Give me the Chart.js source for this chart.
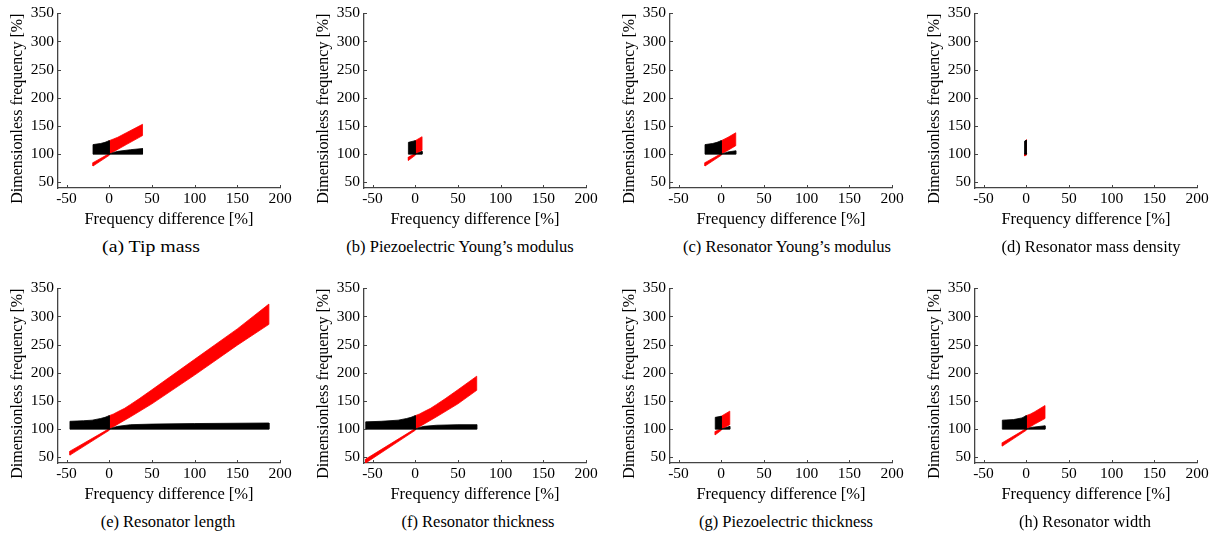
<!DOCTYPE html>
<html>
<head>
<meta charset="utf-8">
<script src="https://cdn.jsdelivr.net/npm/chart.js@4.4.1/dist/chart.umd.min.js"></script>
<style>
  html, body { margin: 0; padding: 0; background: #fff; }
  #figure { position: relative; width: 1223px; height: 535px; overflow: hidden; }
  .panel { position: absolute; width: 306px; height: 232px; }
  .caption {
    position: absolute; white-space: nowrap; color: #000;
    font-family: 'Liberation Serif', 'Times New Roman', Tinos, 'DejaVu Serif', serif;
    font-size: 16.5px;
  }
</style>
</head>
<body>
<div id="figure"></div>
<script>
// sub-figure captions
const captions = [
  '(a) Tip mass',
  '(b) Piezoelectric Young\u2019s modulus',
  '(c) Resonator Young\u2019s modulus',
  '(d) Resonator mass density',
  '(e) Resonator length',
  '(f) Resonator thickness',
  '(g) Piezoelectric thickness',
  '(h) Resonator width'
];

const xTicks = [-50, 0, 50, 100, 150, 200];
const yTicks = [50, 100, 150, 200, 250, 300, 350];
const xLimits = [-60, 200];
const yLimits = [40, 350];
const baseLevel = 100; // lower edge of the black region

// black region for negative frequency difference: upper edge [x, y]
const blackLeftTop = [
  [[-19, 117], [-10, 119], [-5, 121], [0, 124]],
  [[-8, 121], [0, 124]],
  [[-19, 117], [-10, 119], [-5, 121], [0, 124]],
  [[-2, 123], [0, 125]],
  [[-46, 114], [-30, 115], [-20, 116], [-10, 119], [-5, 121], [0, 124]],
  [[-58, 113], [-40, 114], [-20, 116], [-10, 119], [-5, 121], [0, 124]],
  [[-7, 121], [0, 123]],
  [[-28, 116], [-15, 117], [-5, 120], [0, 124]]
];

// black region for positive frequency difference: upper edge
const blackRightTop = [
  [[0, 100], [5, 103], [10, 105], [25, 108], [39, 110]],
  [[0, 100], [8, 105]],
  [[0, 100], [8, 104], [17, 106]],
  [[0, 100], [0.6, 102]],
  [[0, 100], [5, 103], [10, 105], [25, 108], [50, 109], [100, 110], [187, 111]],
  [[0, 100], [5, 103], [10, 105], [25, 107], [50, 108], [72, 108]],
  [[0, 100], [10, 105]],
  [[0, 100], [5, 103], [10, 104], [22, 106]]
];

// red region, negative side: lower and upper edges
const redLeftLow = [
  [[-19, 79], [0, 98]],
  [[-8, 89], [0, 98]],
  [[-19, 79], [0, 98]],
  [[-2, 97], [0, 98]],
  [[-46, 54], [0, 98]],
  [[-58, 40], [0, 98]],
  [[-7, 90], [0, 98]],
  [[-28, 70], [0, 98]]
];
const redLeftHigh = [
  [[-19, 85], [0, 101]],
  [[-8, 95], [0, 101]],
  [[-19, 85], [0, 101]],
  [[-2, 101], [0, 101]],
  [[-46, 61], [0, 101]],
  [[-58, 47], [0, 101]],
  [[-7, 96], [0, 101]],
  [[-28, 76], [0, 101]]
];

// red region, positive side: lower and upper edges
const redRightLow = [
  [[0, 100], [20, 117], [39, 133]],
  [[0, 100], [8, 107]],
  [[0, 100], [8, 107], [17, 115]],
  [[0, 100], [0.6, 101]],
  [[0, 100], [25, 122], [50, 145], [100, 196], [150, 249], [187, 286]],
  [[0, 100], [25, 122], [50, 145], [72, 169]],
  [[0, 100], [10, 108]],
  [[0, 100], [10, 109], [22, 119]]
];
const redRightHigh = [
  [[0, 124], [5, 127], [10, 130], [20, 138], [39, 153]],
  [[0, 124], [8, 131]],
  [[0, 124], [8, 130], [17, 138]],
  [[0, 125], [0.6, 126]],
  [[0, 124], [5, 127], [10, 131], [18, 137], [25, 144], [35, 154], [50, 170], [100, 224], [150, 278], [187, 322]],
  [[0, 124], [5, 127], [10, 131], [18, 137], [25, 144], [35, 154], [50, 170], [72, 194]],
  [[0, 123], [10, 132]],
  [[0, 124], [5, 127], [10, 131], [22, 142]]
];

// layout of the 2 x 4 grid
const colLeft = [0, 306, 612, 917];
const rowTop = [0, 275];
const captionX = [151, 154, 175, 174, 168, 172, 174, 168];
const captionStretch = [1.2, 1, 1, 1, 1, 1, 1, 1];

const serif = "'Liberation Serif', 'Times New Roman', Tinos, 'DejaVu Serif', serif";
const axisColor = '#444';

const toXY = p => ({ x: p[0], y: p[1] });

function closed(points) {
  const pts = points.map(toXY);
  pts.push(pts[0]);
  return pts;
}

function region(points, color) {
  return {
    data: closed(points),
    showLine: true,
    fill: 'shape',
    backgroundColor: color,
    borderColor: color,
    borderWidth: 0.8,
    pointRadius: 0,
    tension: 0
  };
}

// inward tick marks on both axes
const innerTicks = {
  id: 'innerTicks',
  afterDraw(chart) {
    const { ctx, chartArea, scales: { x, y } } = chart;
    ctx.save();
    ctx.strokeStyle = axisColor;
    ctx.lineWidth = 1;
    ctx.beginPath();
    xTicks.forEach(v => {
      const px = Math.round(x.getPixelForValue(v)) + 0.5;
      ctx.moveTo(px, chartArea.bottom);
      ctx.lineTo(px, chartArea.bottom - 3);
    });
    yTicks.forEach(v => {
      const py = Math.round(y.getPixelForValue(v)) + 0.5;
      ctx.moveTo(chartArea.left, py);
      ctx.lineTo(chartArea.left + 3, py);
    });
    ctx.stroke();
    ctx.restore();
  }
};

const figure = document.getElementById('figure');

captions.forEach((caption, i) => {
  const row = Math.floor(i / 4);
  const col = i % 4;

  const box = document.createElement('div');
  box.className = 'panel';
  box.style.left = colLeft[col] + 'px';
  box.style.top = rowTop[row] + 'px';
  const canvas = document.createElement('canvas');
  canvas.width = 306;
  canvas.height = 232;
  box.appendChild(canvas);
  figure.appendChild(box);

  const cap = document.createElement('div');
  cap.className = 'caption';
  cap.textContent = caption;
  cap.style.left = (colLeft[col] + captionX[i]) + 'px';
  cap.style.top = (rowTop[row] + 237) + 'px';
  cap.style.transform = 'translateX(-50%) scaleX(' + captionStretch[i] + ')';
  figure.appendChild(cap);

  const blackLeft = [[blackLeftTop[i][0][0], baseLevel], ...blackLeftTop[i], [0, baseLevel]];
  const rightTop = blackRightTop[i];
  const blackRight = [...rightTop, [rightTop[rightTop.length - 1][0], baseLevel]];
  const redLeft = [...redLeftLow[i], ...redLeftHigh[i].slice().reverse()];
  const redRight = [...redRightLow[i], ...redRightHigh[i].slice().reverse()];

  new Chart(canvas, {
    type: 'scatter',
    data: {
      datasets: [
        region(blackLeft, '#000'),
        region(blackRight, '#000'),
        region(redLeft, '#ff0000'),
        region(redRight, '#ff0000')
      ]
    },
    options: {
      responsive: false,
      animation: false,
      devicePixelRatio: 1,
      layout: { padding: { left: 0, right: 26, top: 13, bottom: 0 } },
      plugins: {
        legend: { display: false },
        tooltip: { enabled: false }
      },
      scales: {
        x: {
          type: 'linear',
          min: xLimits[0],
          max: xLimits[1],
          afterBuildTicks: s => { s.ticks = xTicks.map(v => ({ value: v })); },
          afterFit: s => { s.height = 44; },
          grid: { drawOnChartArea: false, drawTicks: false },
          border: { display: true, color: axisColor, width: 1.3 },
          ticks: { color: '#000', padding: 2, maxRotation: 0, font: { family: serif, size: 15.5 } },
          title: {
            display: true,
            text: 'Frequency difference [%]',
            color: '#000',
            padding: { top: 0, bottom: 2 },
            font: { family: serif, size: 16.5 }
          }
        },
        y: {
          type: 'linear',
          min: yLimits[0],
          max: yLimits[1],
          afterBuildTicks: s => { s.ticks = yTicks.map(v => ({ value: v })); },
          afterFit: s => { s.width = 58; },
          grid: { drawOnChartArea: false, drawTicks: false },
          border: { display: true, color: axisColor, width: 1.3 },
          ticks: { color: '#000', padding: 4, font: { family: serif, size: 15.5 } },
          title: {
            display: true,
            text: 'Dimensionless frequency [%]\u00a0\u00a0\u00a0\u00a0',
            color: '#000',
            padding: { top: 8, bottom: 0 },
            font: { family: serif, size: 16 }
          }
        }
      }
    },
    plugins: [innerTicks]
  });
});
</script>
</body>
</html>
